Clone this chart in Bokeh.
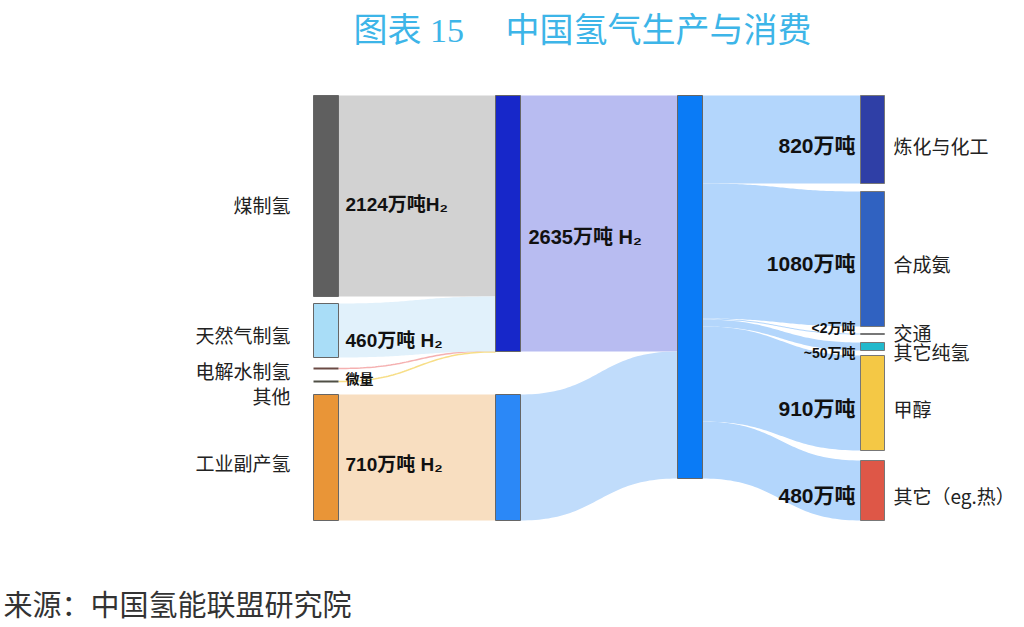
import numpy as np
from bokeh.plotting import figure
from bokeh.models import Range1d, ColumnDataSource
from bokeh.core.properties import value
from bokeh.embed import file_html
from bokeh.resources import INLINE

# ---------------- data ----------------
sources = ["煤制氢", "天然气制氢", "电解水制氢", "其他", "工业副产氢"]
source_values = [2124, 460, 0, 0, 710]          # 电解水/其他: 微量
source_value_labels = ["2124万吨H₂", "460万吨 H₂", "微量", "", "710万吨 H₂"]
hub_values = [2635, 710]
hub_value_labels = ["2635万吨 H₂", ""]
uses = ["炼化与化工", "合成氨", "交通", "其它纯氢", "甲醇", "其它（eg.热）"]
use_values = [820, 1080, 2, 50, 910, 480]
use_value_labels = ["820万吨", "1080万吨", "<2万吨", "~50万吨", "910万吨", "480万吨"]
title_parts = ["图表 15", "中国氢气生产与消费"]
source_note = "来源：中国氢能联盟研究院"

# ---------------- layout (the original diagram is not drawn to scale) ----------------
W, H = 1024, 627
COL_X = [313, 495, 677, 860]
NW = 25
src_spans = [(95, 296), (303, 357), (367, 369), (380, 382), (394, 520)]
src_to_hub = [(95, 296), (296, 351), (350, 350.8), (351, 351.8), (394, 520)]
hub_spans = [(95, 351), (394, 520)]
hub_to_n3 = [(95, 351), (351, 478)]
n3_span = (95, 478)
n3_out = [(95, 183), (183, 318), (318, 319), (319, 326), (326, 421), (421, 478)]
use_spans = [(95, 183), (191, 326), (333, 334), (342, 350), (355, 450), (460, 520)]

src_colors = ["#5f5f5f", "#a9ddf7", "#6b4a44", "#4f4f45", "#e99537"]
src_band_colors = ["#d2d2d2", "#e1f1fb", "#f4a8a8", "#f6da7a", "#f8dec0"]
hub_colors = ["#1727c9", "#2b88f7"]
hub_band_colors = ["#b8bcf1", "#c0dcfb"]
n3_color = "#0a7bf6"
use_band_color = "#b3d6fc"
use_colors = ["#2f3fa6", "#3062c1", "#ffffff", "#22b9cc", "#f4c845", "#de5747"]

src_label_y = [204, 334, 370, 395, 462]
src_value_y = [204, 340, 378, 0, 464]
use_label_y = [145, 263, 332, 351, 408, 495]
use_value_y = [145, 263, 327, 352, 408, 495]

CJK = "Noto Sans CJK SC"
BOLD = "Liberation Sans, Noto Sans CJK SC"


def bezier(x0, x1, y0, y1, n=60):
    t = np.linspace(0, 1, n)
    xm = (x0 + x1) / 2
    x = (1 - t) ** 3 * x0 + 3 * (1 - t) ** 2 * t * xm + 3 * (1 - t) * t ** 2 * xm + t ** 3 * x1
    y = y0 * ((1 - t) ** 3 + 3 * (1 - t) ** 2 * t) + y1 * (3 * (1 - t) * t ** 2 + t ** 3)
    return x, y


def band(x0, x1, s, d):
    xt, yt = bezier(x0, x1, s[0], d[0])
    xb, yb = bezier(x0, x1, s[1], d[1])
    return list(np.concatenate([xt, xb[::-1]])), list(np.concatenate([yt, yb[::-1]]))


p = figure(width=W, height=H, x_range=Range1d(0, W), y_range=Range1d(H, 0),
           output_backend="svg", toolbar_location=None,
           x_axis_type=None, y_axis_type=None, min_border=0)
p.outline_line_color = None
p.background_fill_color = "white"
p.border_fill_color = "white"

# bands: sources -> hubs
bx, by, bc = [], [], []
for i in range(len(sources)):
    if source_values[i] > 0:
        x, y = band(COL_X[0] + NW, COL_X[1], src_spans[i], src_to_hub[i])
        bx.append(x); by.append(y); bc.append(src_band_colors[i])
    else:
        sy = (src_spans[i][0] + src_spans[i][1]) / 2
        dy = (src_to_hub[i][0] + src_to_hub[i][1]) / 2
        lx, ly = bezier(COL_X[0] + NW, COL_X[1], sy, dy)
        p.line(lx, ly, line_color=src_band_colors[i], line_width=1.5, line_alpha=0.9)
# hubs -> n3
for j in range(len(hub_values)):
    x, y = band(COL_X[1] + NW, COL_X[2], hub_spans[j], hub_to_n3[j])
    bx.append(x); by.append(y); bc.append(hub_band_colors[j])
# n3 -> uses
for k in range(len(uses)):
    x, y = band(COL_X[2] + NW, COL_X[3], n3_out[k], use_spans[k])
    bx.append(x); by.append(y); bc.append(use_band_color)
p.patches(bx, by, fill_color=bc, line_color=None)

# nodes
nodes_l, nodes_r, nodes_t, nodes_b, nodes_c, nodes_lc = [], [], [], [], [], []
for i in range(len(sources)):
    nodes_l.append(COL_X[0]); nodes_r.append(COL_X[0] + NW)
    nodes_t.append(src_spans[i][0]); nodes_b.append(src_spans[i][1])
    nodes_c.append(src_colors[i]); nodes_lc.append("#666666" if source_values[i] > 0 else None)
for j in range(len(hub_values)):
    nodes_l.append(COL_X[1]); nodes_r.append(COL_X[1] + NW)
    nodes_t.append(hub_spans[j][0]); nodes_b.append(hub_spans[j][1])
    nodes_c.append(hub_colors[j]); nodes_lc.append("#666666")
nodes_l.append(COL_X[2]); nodes_r.append(COL_X[2] + NW)
nodes_t.append(n3_span[0]); nodes_b.append(n3_span[1])
nodes_c.append(n3_color); nodes_lc.append("#666666")
for k in range(len(uses)):
    nodes_l.append(COL_X[3]); nodes_r.append(COL_X[3] + NW - 1)
    nodes_t.append(use_spans[k][0]); nodes_b.append(use_spans[k][1])
    nodes_c.append(use_colors[k]); nodes_lc.append("#777777")
p.quad(left=nodes_l, right=nodes_r, top=nodes_t, bottom=nodes_b,
       fill_color=nodes_c, line_color=nodes_lc, line_width=1)

# source names
p.text(x=[290] * len(sources), y=src_label_y, text=sources, text_align="right",
       text_baseline="middle", text_font=value(CJK), text_font_size="19px", text_color="#222222")
# source values
sv = [(t, y) for t, y in zip(source_value_labels, src_value_y) if t]
p.text(x=[345] * len(sv), y=[y for _, y in sv], text=[t for t, _ in sv], text_align="left",
       text_baseline="middle", text_font=value(BOLD), text_font_style="bold",
       text_font_size=["19px" if t != "微量" else "14px" for t, _ in sv], text_color="#111111")
# hub value
p.text(x=[528], y=[236], text=[hub_value_labels[0]], text_align="left", text_baseline="middle",
       text_font=value(BOLD), text_font_style="bold", text_font_size="20px", text_color="#111111")
# use values
p.text(x=[855] * len(uses), y=use_value_y, text=use_value_labels, text_align="right",
       text_baseline="middle", text_font=value(BOLD), text_font_style="bold",
       text_font_size=["21px", "21px", "14px", "14px", "21px", "21px"], text_color="#111111")
# use names
p.text(x=[893] * len(uses), y=use_label_y, text=uses, text_align="left",
       text_baseline="middle", text_font=value(CJK), text_font_size="19px", text_color="#222222")

# title
p.text(x=[353, 505], y=[30, 30], text=title_parts, text_align="left", text_baseline="middle",
       text_font=value("Liberation Serif, Noto Sans CJK SC"), text_font_size="34px", text_color="#3db5e8")
# source note
p.text(x=[3], y=[602], text=[source_note], text_align="left", text_baseline="middle",
       text_font=value(CJK), text_font_size="29px", text_color="#333333")

open("out.html", "w").write(file_html(p, INLINE))
